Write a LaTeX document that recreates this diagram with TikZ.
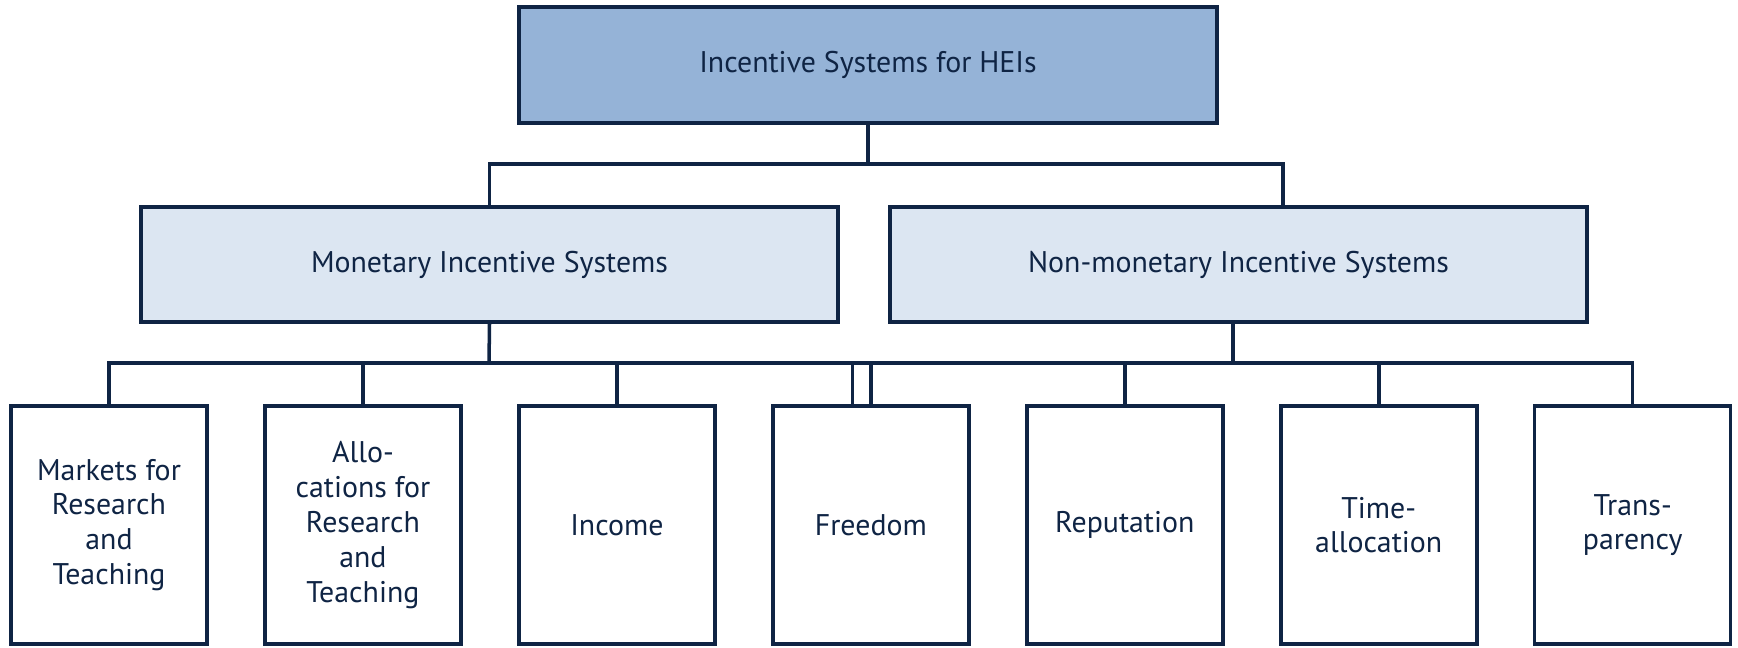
\documentclass[tikz,border=0pt]{standalone}
\usepackage{fontspec}
\setmainfont{PT Sans}
\usetikzlibrary{calc, positioning}
\definecolor{navy}{HTML}{0F2444}
\definecolor{headblue}{HTML}{95B3D7}
\definecolor{paleblue}{HTML}{DCE6F2}
\def\leafsep{5.08cm}
\tikzstyle{box}=[draw=navy, line width=2pt, text=navy, align=center, inner sep=0pt, font=\fontsize{17}{19.8}\selectfont]
\tikzstyle{head box}=[box, fill=headblue, minimum width=13.96cm, minimum height=2.32cm]
\tikzstyle{branch box}=[box, fill=paleblue, minimum width=13.94cm, minimum height=2.3cm]
\tikzstyle{leaf box}=[box, fill=white, minimum width=3.92cm, minimum height=4.76cm]
\tikzstyle{link}=[draw=navy, line width=2pt]

\begin{document}
\begin{tikzpicture}[x=0.02cm, y=-0.02cm, node distance=\leafsep]
        \useasboundingbox (0,0) rectangle (1738,647);

		\node[head box] (hei) at (868,65) {Incentive Systems for HEIs};
		\node[branch box] (mon) at (489.5,264.5) {Monetary Incentive Systems};
		\node[branch box] (nonmon) at (1238.5,264.5) {Non-monetary Incentive Systems};

		\node[leaf box] (markets) at (109,525) {Markets for\\Research\\and\\Teaching};
		\node[leaf box, right of=markets] (alloc) {Allo-\\cations for\\Research\\and\\Teaching};
		\node[leaf box, right of=alloc] (income) {Income};
		\node[leaf box, right of=income] (freedom) {Freedom};
		\node[leaf box, right of=freedom] (reput) {Reputation};
		\node[leaf box, right of=reput] (time) {Time-\\allocation};
		\node[leaf box, right of=time] (transp) {Trans-\\parency};

		\coordinate (jt) at (868,164);
		\coordinate (jm) at (489,363);
		\coordinate (jn) at (1233,363);
		\coordinate (fl) at ([xshift=-0.37cm]freedom.north);

		\draw[link] (hei.south) -- (jt);
		\draw[link] (mon.north) |- (jt) -| ([xshift=0.89cm]nonmon.north);

		\draw[link] (mon.south) -- (jm);
		\draw[link] (jn |- nonmon.south) -- (jn);
		\draw[link] (markets.north) |- (freedom.north |- jm);
		\draw[link] (fl) -- (fl |- jm);
		\draw[link] (freedom.north) |- (transp.north |- jn) -- (transp.north);
		\foreach \leaf in {alloc, income}
			\draw[link] (\leaf.north) -- (\leaf.north |- jm);
		\foreach \leaf in {reput, time}
			\draw[link] (\leaf.north) -- (\leaf.north |- jn);
	\end{tikzpicture}
\end{document}
